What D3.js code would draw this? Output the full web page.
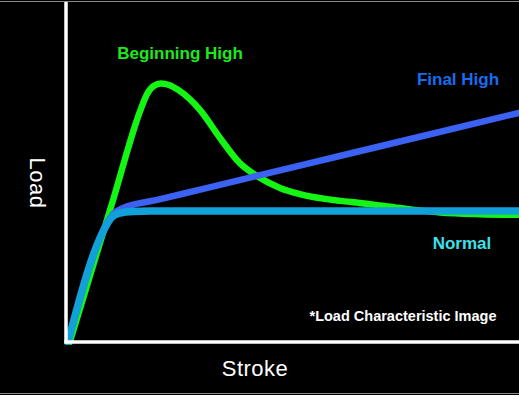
<!DOCTYPE html>
<html>
<head>
<meta charset="utf-8">
<script src="https://cdn.jsdelivr.net/npm/d3@7"></script>
<style>
  html, body { margin: 0; padding: 0; background: #000; }
  svg { display: block; }
</style>
</head>
<body>
<svg></svg>
<script>
var width = 519;
var height = 395;

// stroke (0-100) vs load (0-100)
var normalStroke = [0, 7.1, 8.4, 9.8, 11.5, 14.4, 18.2, 60, 100];
var normalLoad = [0, 30.6, 34.1, 36.8, 37.9, 38.4, 38.5, 38.5, 38.5];

var finalStroke = [0, 7.1, 8.5, 10, 12, 20, 30, 50, 75, 100];
var finalLoad = [0, 30.6, 34.8, 37.6, 39.3, 41.85, 45.05, 51.43, 59.42, 67.4];

var beginStroke = [0.4, 10, 15.9, 17.4, 19, 20.6, 22.4, 24.6, 29.3, 33.7, 38.1, 41.9, 47, 51.4, 60.3, 64.7, 73.6, 82.5, 91.4, 100];
var beginLoad = [0, 41.8, 67.6, 72.6, 75.3, 76, 75.6, 74, 68.2, 60, 52.6, 48.8, 45.3, 43.5, 41.5, 40.9, 39.4, 38.1, 37.6, 37.4];

var seriesNames = ["Beginning High", "Final High", "Normal"];
var seriesColors = ["#14f514", "#3b62f2", "#12a0d8"];
var labelColors = ["#1ee81e", "#1a6cf0", "#3fe0ea"];

var svg = d3.select("svg").attr("width", width).attr("height", height);

svg.append("rect")
  .attr("width", width)
  .attr("height", height)
  .attr("fill", "#000");

// thin grey frame lines top and bottom
svg.append("line").attr("x1", 0).attr("x2", width).attr("y1", 1.5).attr("y2", 1.5)
  .attr("stroke", "#8a8a8a").attr("stroke-width", 1);
svg.append("line").attr("x1", 0).attr("x2", width).attr("y1", 393.5).attr("y2", 393.5)
  .attr("stroke", "#8a8a8a").attr("stroke-width", 1);

var xScale = d3.scaleLinear().domain([0, 100]).range([68, 519]);
var yScale = d3.scaleLinear().domain([0, 100]).range([342, 2]);

var line = d3.line()
  .x((d) => xScale(d[0]))
  .y((d) => yScale(d[1]))
  .curve(d3.curveMonotoneX);

var series = [
  d3.zip(beginStroke, beginLoad),
  d3.zip(finalStroke, finalLoad),
  d3.zip(normalStroke, normalLoad)
];

svg.append("defs").append("clipPath").attr("id", "plot")
  .append("rect").attr("x", 60).attr("y", 0).attr("width", width - 60).attr("height", 345);

svg.append("g")
  .attr("clip-path", "url(#plot)")
  .selectAll("path")
  .data(series)
  .enter()
  .append("path")
  .attr("d", line)
  .attr("fill", "none")
  .attr("stroke", (d, i) => seriesColors[i])
  .attr("stroke-width", (d, i) => (i === 2 ? 7.5 : 6.5))
  .attr("stroke-linecap", "round")
  .attr("stroke-linejoin", "round");

// axes: plain white lines, no ticks
var xAxis = d3.axisBottom(xScale).tickValues([]).tickSizeOuter(0);
var yAxis = d3.axisLeft(yScale).tickValues([]).tickSizeOuter(0);

svg.append("g")
  .attr("transform", `translate(0, ${yScale(0)})`)
  .call(xAxis)
  .call((g) => g.select(".domain").attr("stroke", "#fff").attr("stroke-width", 3.5)
    .attr("d", `M${xScale(0) - 3.5},0H${width}`));

svg.append("g")
  .attr("transform", `translate(${xScale(0) - 2}, 0)`)
  .call(yAxis)
  .call((g) => g.select(".domain").attr("stroke", "#fff").attr("stroke-width", 3.5)
    .attr("d", `M0,2V${yScale(0) + 1.5}`));

// series labels
var labelX = [180, 458, 462];
var labelY = [59, 85, 249];
svg.selectAll("text.series")
  .data(seriesNames)
  .enter()
  .append("text")
  .attr("class", "series")
  .attr("x", (d, i) => labelX[i])
  .attr("y", (d, i) => labelY[i])
  .attr("text-anchor", "middle")
  .attr("fill", (d, i) => labelColors[i])
  .style("font-family", "'Liberation Sans', Arial, sans-serif")
  .style("font-weight", "bold")
  .style("font-size", "17px")
  .text((d) => d);

svg.append("text")
  .attr("x", 403)
  .attr("y", 321)
  .attr("text-anchor", "middle")
  .attr("fill", "#fff")
  .style("font-family", "'Liberation Sans', Arial, sans-serif")
  .style("font-weight", "bold")
  .style("font-size", "14.5px")
  .text("*Load Characteristic Image");

// axis titles
svg.append("text")
  .attr("x", 255)
  .attr("y", 376)
  .attr("text-anchor", "middle")
  .attr("fill", "#fff")
  .style("font-family", "'Liberation Sans', Arial, sans-serif")
  .style("font-size", "22px")
  .style("letter-spacing", "0.5px")
  .text("Stroke");

svg.append("text")
  .attr("transform", "translate(30, 183) rotate(90)")
  .attr("text-anchor", "middle")
  .attr("fill", "#fff")
  .style("font-family", "'Liberation Sans', Arial, sans-serif")
  .style("font-size", "22px")
  .style("letter-spacing", "0.5px")
  .text("Load");
</script>
</body>
</html>
